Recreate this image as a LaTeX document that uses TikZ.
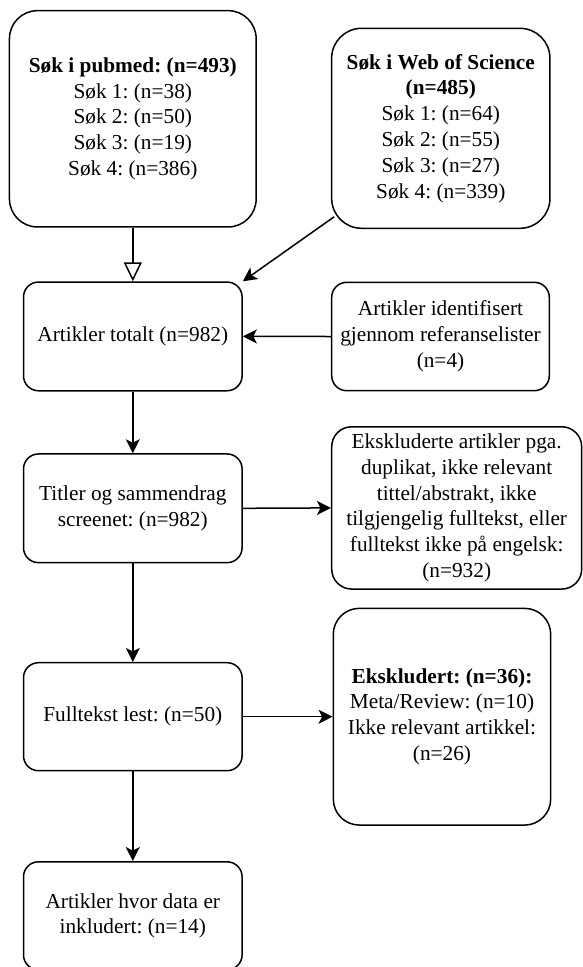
\documentclass[tikz,border=0pt]{standalone}
\usepackage{fontspec}
\setmainfont{Liberation Serif}
\usetikzlibrary{arrows.meta}
\frenchspacing
\begin{document}
\begin{tikzpicture}[x=1pt,y=-1pt,
  box/.style={draw, line width=1.5pt, rounded corners=#1, align=center, inner sep=0pt,
    font=\fontsize{21.3}{25.8}\selectfont},
  box/.default=15pt,
  arr/.style={line width=1.5pt, -{Stealth[length=14pt,width=14pt,inset=3.5pt]}},
  hollow/.style={line width=1.5pt, -{Triangle[open,length=19pt,width=18pt]}}
]
\path[use as bounding box] (0,0) rectangle (583,967);
\clip (0,0) rectangle (583,967);

\node[box=28pt, minimum width=246.7pt, minimum height=216.3pt] (pubmed) at (132.8,118.8)
  {\textbf{Søk i pubmed: (n=493)}\\Søk 1: (n=38)\\Søk 2: (n=50)\\Søk 3: (n=19)\\Søk 4: (n=386)};
\node[box=30pt, minimum width=218.3pt, minimum height=200pt] (wos) at (440.8,128.3)
  {\textbf{Søk i Web of Science}\\\textbf{(n=485)}\\Søk 1: (n=64)\\Søk 2: (n=55)\\Søk 3: (n=27)\\Søk 4: (n=339)};
\node[box, minimum width=218.6pt, minimum height=108.7pt] (totalt) at (132.8,336.4)
  {Artikler totalt (n=982)};
\node[box, minimum width=217.6pt, minimum height=108.4pt] (ref) at (440.5,336.5)
  {Artikler identifisert\\gjennom referanselister\\(n=4)};
\node[box, minimum width=218.6pt, minimum height=108.7pt] (titler) at (132.8,508.3)
  {Titler og sammendrag\\screenet: (n=982)};
\node[box=20pt, minimum width=250pt, minimum height=162.3pt] (ekskl) at (456.7,507.9)
  {Ekskluderte artikler pga.\\duplikat, ikke relevant\\tittel/abstrakt, ikke\\tilgjengelig fulltekst, eller\\fulltekst ikke på engelsk:\\(n=932)};
\node[box, minimum width=218.6pt, minimum height=108pt] (full) at (132.8,716.7)
  {Fulltekst lest: (n=50)};
\node[box=26pt, minimum width=217.4pt, minimum height=216.7pt] (ekskludert) at (442,716.7)
  {\textbf{Ekskludert: (n=36):}\\Meta/Review: (n=10)\\Ikke relevant artikkel:\\(n=26)};
\node[box, minimum width=218.6pt, minimum height=108pt] (final) at (132.8,915.8)
  {Artikler hvor data er\\inkludert: (n=14)};

\draw[hollow] (pubmed.south) -- (totalt.north);
\draw[arr] ([shift={(3.3,-12.3)}]wos.south west) -- (totalt.north east);
\draw[arr] (ref.west) -- (totalt.east);
\draw[arr] (totalt.south) -- (titler.north);
\draw[arr] (titler.east) -- (ekskl.west);
\draw[arr] (titler.south) -- (full.north);
\draw[arr] (full.east) -- (ekskludert.west);
\draw[arr] (full.south) -- (final.north);
\end{tikzpicture}
\end{document}
